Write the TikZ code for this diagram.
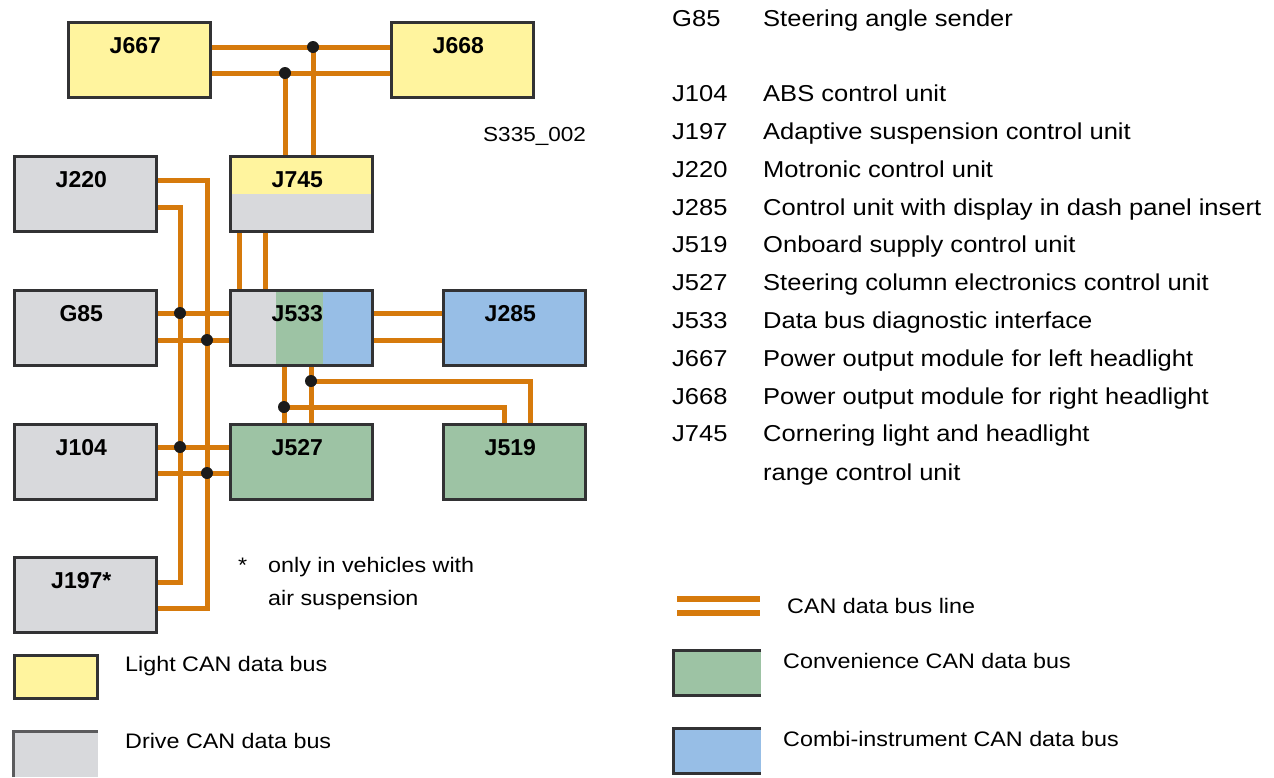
\documentclass[tikz,border=0pt]{standalone}
\usepackage{fontspec}
\setmainfont{Liberation Sans}[FakeStretch=1.11]
\newfontfamily\boxfont{Liberation Sans}
\usetikzlibrary{calc}
\definecolor{bus}{RGB}{214,122,12}
\definecolor{edge}{RGB}{50,50,52}
\definecolor{dotc}{RGB}{27,27,27}
\definecolor{lyellow}{RGB}{255,244,158}
\definecolor{lgray}{RGB}{216,217,220}
\definecolor{lgreen}{RGB}{157,195,164}
\definecolor{lblue}{RGB}{151,190,230}
\pgfdeclarelayer{bg}
\pgfdeclarelayer{wires}
\pgfsetlayers{bg,wires,main}
\begin{document}
\begin{tikzpicture}[x=1pt,y=-1pt,
  box/.style={draw=edge, line width=2.6pt, inner sep=0pt, anchor=north west,
    minimum width=142pt, minimum height=75pt},
  lbl/.style={font=\boxfont\bfseries\fontsize{23}{23}\selectfont, anchor=base, inner sep=0pt},
  wire/.style={draw=bus, line width=5pt, line join=miter},
  jdot/.style={circle, fill=dotc, minimum size=12pt, inner sep=0pt},
  txt/.style={font=\fontsize{23}{23}\selectfont, anchor=base west, inner sep=0pt},
  small/.style={font=\fontsize{21}{21}\selectfont, anchor=base west, inner sep=0pt}]
\begin{pgfonlayer}{bg}
\fill[white] (0,0) rectangle (1274,777);
\end{pgfonlayer}
\useasboundingbox (0,0) rectangle (1274,777);

% boxes
\node[box, fill=lyellow] (J667) at (67,21) {};
\node[box, fill=lyellow] (J668) at (390,21) {};
\node[box, fill=lgray] (J220) at (13,155) {};
\node[box, fill=lgray, path picture={
  \fill[lyellow] (path picture bounding box.north west) rectangle ($(path picture bounding box.north east)+(0,38)$);}] (J745) at (229,155) {};
\node[box, fill=lgray] (G85) at (13,289) {};
\node[box, fill=lgray, path picture={
  \fill[lgreen] ($(path picture bounding box.north west)+(46,0)$) rectangle ($(path picture bounding box.south west)+(93,0)$);
  \fill[lblue] ($(path picture bounding box.north west)+(93,0)$) rectangle (path picture bounding box.south east);}] (J533) at (229,289) {};
\node[box, fill=lblue] (J285) at (442,289) {};
\node[box, fill=lgray] (J104) at (13,423) {};
\node[box, fill=lgreen] (J527) at (229,423) {};
\node[box, fill=lgreen] (J519) at (442,423) {};
\node[box, fill=lgray] (J197) at (13,556) {};

% labels
\foreach \b/\t in {J667/J667, J668/J668, J220/J220, J745/J745, G85/G85, J533/J533,
  J285/J285, J104/J104, J527/J527, J519/J519, J197/J197*}
  \node[lbl] (l\b) at ($(\b.north)+(-4,32)$) {\t};

% junction coordinates
\coordinate (tA) at (313,47);
\coordinate (tB) at (285,73);
\coordinate (m1) at (239,240);
\coordinate (m2) at (265,240);
\coordinate (vo) at (207,180);
\coordinate (vi) at (180,207);
\coordinate (ob) at (207,608);
\coordinate (ib) at (180,582);
\coordinate (g1) at (180,313);
\coordinate (g2) at (207,340);
\coordinate (d1) at (180,447);
\coordinate (d2) at (207,473);
\coordinate (c1) at (311,381);
\coordinate (c2) at (284,407);
\coordinate (c3) at (530,381);
\coordinate (c4) at (504,407);

\begin{pgfonlayer}{wires}
\draw[wire] (J667.east |- tA) -- (J668.west |- tA);
\draw[wire] (J667.east |- tB) -- (J668.west |- tB);
\draw[wire] (tA) -- (tA |- J745.north);
\draw[wire] (tB) -- (tB |- J745.north);
\draw[wire] (m1 |- J745.south) -- (m1 |- J533.north);
\draw[wire] (m2 |- J745.south) -- (m2 |- J533.north);
\draw[wire] (J220.east |- vo) -- (vo) -- (ob) -- (J197.east |- ob);
\draw[wire] (J220.east |- vi) -- (vi) -- (ib) -- (J197.east |- ib);
\draw[wire] (G85.east |- g1) -- (J533.west |- g1);
\draw[wire] (G85.east |- g2) -- (J533.west |- g2);
\draw[wire] (J104.east |- d1) -- (J527.west |- d1);
\draw[wire] (J104.east |- d2) -- (J527.west |- d2);
\draw[wire] (J533.east |- g1) -- (J285.west |- g1);
\draw[wire] (J533.east |- g2) -- (J285.west |- g2);
\draw[wire] (c1 |- J533.south) -- (c1 |- J527.north);
\draw[wire] (c2 |- J533.south) -- (c2 |- J527.north);
\draw[wire] (c1) -- (c3) -- (c3 |- J519.north);
\draw[wire] (c2) -- (c4) -- (c4 |- J519.north);
\end{pgfonlayer}

\foreach \p in {tA,tB,g1,g2,d1,d2,c1,c2}
  \node[jdot] (dot\p) at (\p) {};

% image code
\node[small, font=\fontsize{20.3}{21}\selectfont] (code) at (483,141) {S335\_002};

% footnote
\node[small] (ast) at (238,572) {*};
\node[small] (note1) at (268,572) {only in vehicles with};
\node[small] (note2) at (268,605) {air suspension};

% list
\foreach \i/\c/\d in {0/G85/Steering angle sender,
  2/J104/ABS control unit,
  3/J197/Adaptive suspension control unit,
  4/J220/Motronic control unit,
  5/J285/Control unit with display in dash panel insert,
  6/J519/Onboard supply control unit,
  7/J527/Steering column electronics control unit,
  8/J533/Data bus diagnostic interface,
  9/J667/Power output module for left headlight,
  10/J668/Power output module for right headlight,
  11/J745/Cornering light and headlight}{
  \node[txt] (c\i) at (672,{26+37.8*\i}) {\c};
  \node[txt] (d\i) at (763,{26+37.8*\i}) {\d};
}
\node[txt] (d12) at (763,480) {range control unit};

% legend left
\node[box, fill=lyellow, minimum width=83pt, minimum height=43pt] (legY) at (13.3,654.3) {};
\node[small] (legYt) at (125,671) {Light CAN data bus};
\fill[lgray] (12,731) rectangle (98,777);
\draw[edge!80, line width=2.6pt] (13.3,777) -- (13.3,731.3) -- (98,731.3);
\node[small] (legGt) at (125,748) {Drive CAN data bus};

% legend right
\draw[bus, line width=6pt] (677,599) -- (760,599);
\draw[bus, line width=6pt] (677,612.5) -- (760,612.5);
\node[small] (legBt) at (787,613) {CAN data bus line};
\fill[lgreen] (672,649) rectangle (761,697);
\draw[edge, line width=2.6pt] (761,650.3) -- (673.3,650.3) -- (673.3,695.7) -- (761,695.7);
\node[small] (legCt) at (783,668) {Convenience CAN data bus};
\fill[lblue] (672,727) rectangle (761,775);
\draw[edge, line width=2.6pt] (761,728.3) -- (673.3,728.3) -- (673.3,773.7) -- (761,773.7);
\node[small] (legIt) at (783,746) {Combi-instrument CAN data bus};
\end{tikzpicture}
\end{document}
